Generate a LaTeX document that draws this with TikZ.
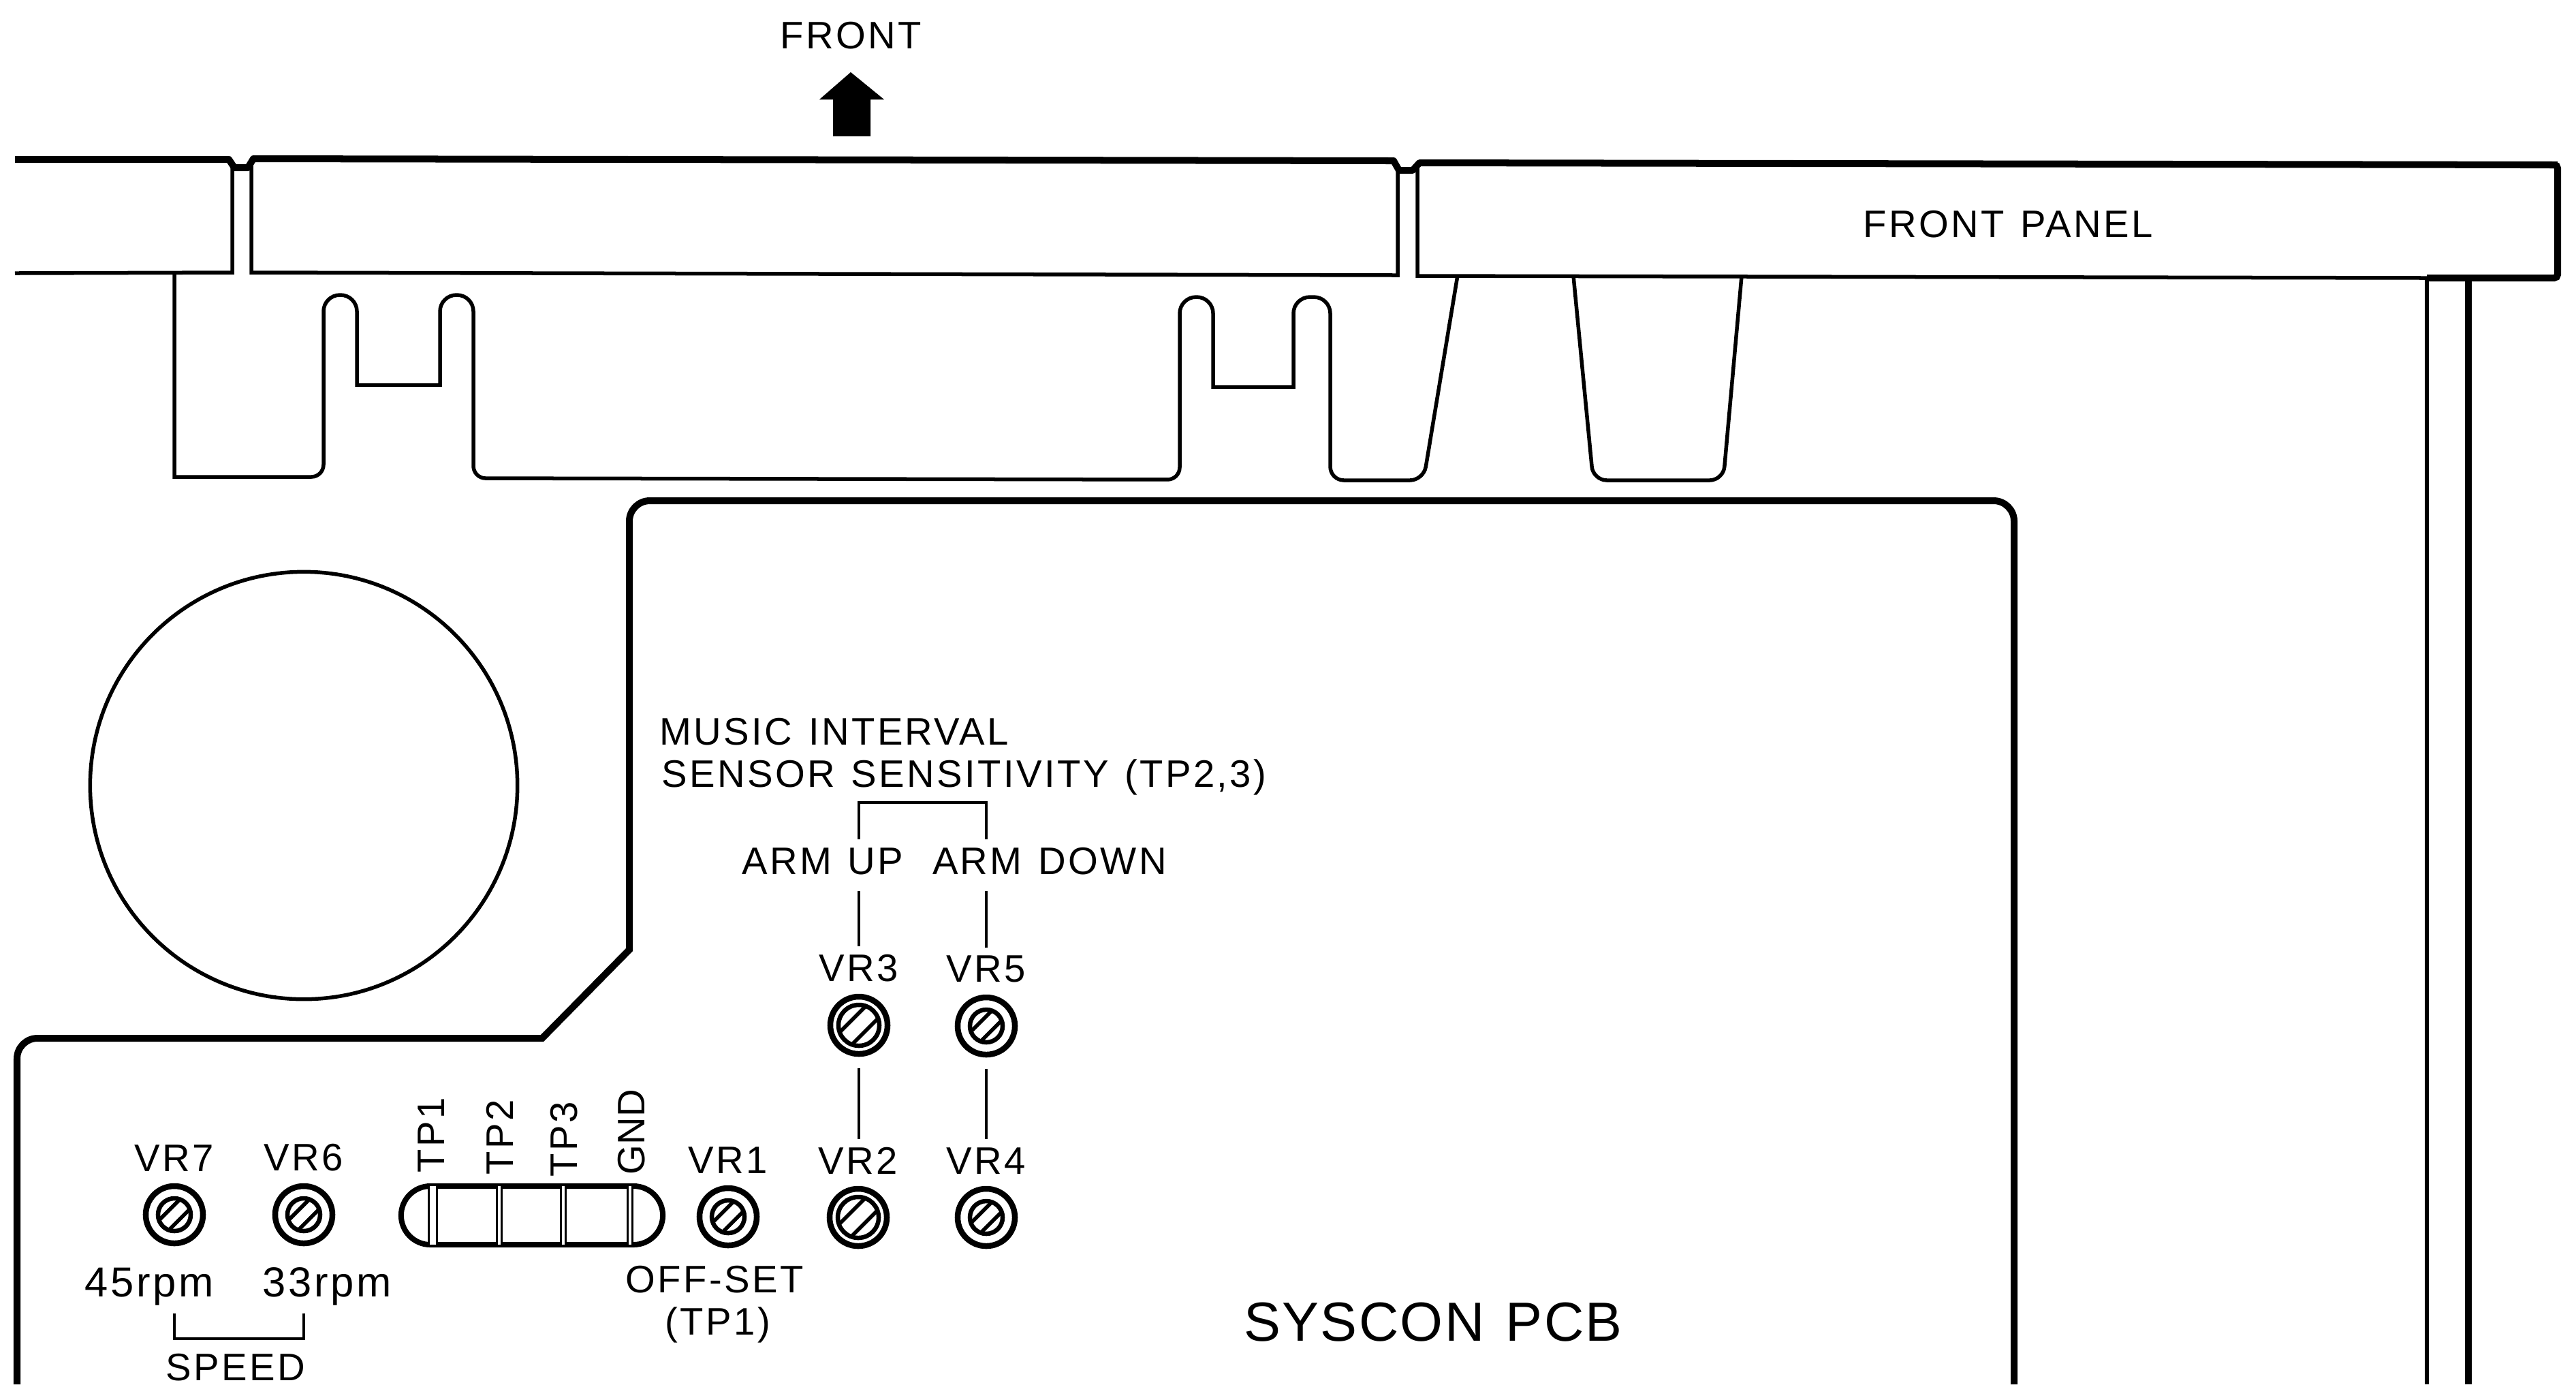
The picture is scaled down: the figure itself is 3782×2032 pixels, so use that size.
\documentclass[tikz,border=0pt]{standalone}
\usepackage{fontspec}
\setmainfont[LetterSpace=6,WordSpace=1.25]{Liberation Sans}
\usepackage{tikz}
\tikzset{
    every node/.style = {font=\fontsize{16}{18}\selectfont},
    every label/.style = {yshift=0.05cm},
    heavy/.style = {line width=0.1cm},
    fine/.style = {line width=0.055cm},
    lead/.style = {line width=0.045cm},
    lbl/.style = {anchor=base},
    tplbl/.style = {rotate=90, anchor=base west, inner xsep=0pt},
    tpline/.style = {line width=0.03cm, double, double distance=#1},
    tpline/.default = 0.04cm,
    screw/.style = {circle, draw, line width=0.085cm, minimum size=0.84cm, inner sep=0pt, node contents={},
        path picture={
            \draw[line width=0.065cm] (path picture bounding box.center) circle (#1);
            \begin{scope}
                \clip (path picture bounding box.center) circle (#1);
                \draw[line width=0.055cm, shift={(path picture bounding box.center)}]
                    ({-1cm},{-1cm+0.6*#1}) -- ({1cm-0.6*#1},{1cm})
                    ({-1cm+0.6*#1},{-1cm}) -- ({1cm},{1cm-0.6*#1});
            \end{scope}
        }},
    screw/.default = 0.24cm,
}

\begin{document}
\begin{tikzpicture}[x=0.01cm,y=-0.01cm]
    \useasboundingbox (0,0) rectangle (3782,2032);

    \node (front) at (1249,71) [lbl] {FRONT};
    \fill (1249,106) -- (1298,146) -- (1278,146) -- (1278,200) -- (1223,200) -- (1223,146) -- (1203,146) -- cycle;

    \draw[heavy, line join=round] (22,234) -- (336,234) -- (344,246) -- (364,246) -- (372,233) -- (2046,236) -- (2054,250) -- (2074,250) -- (2084,239) -- (3755,242);
    \draw[fine] (341,242) -- (341,400) -- (22,401);
    \draw[fine] (369,240) -- (369,400) -- (2052,404) -- (2052,246);
    \draw[fine] (2081,246) -- (2081,405) -- (3563,408);
    \draw[heavy, rounded corners=0.05cm] (3563,408) -- (3755,408) -- (3755,242) -- (3700,242);
    \node (frontpanel) at (2948,348) [lbl] {FRONT PANEL};
    \draw[fine] (3563,408) -- (3563,2032);
    \draw[heavy] (3624,404) -- (3624,2032);

    \draw[fine] (256,400) -- (256,700) [rounded corners=0.18cm] -- (475,700) [rounded corners=0.24cm] -- (475,433) -- (524,433) [sharp corners] -- (524,565) -- (646,565) [rounded corners=0.24cm] -- (646,433) -- (695,433) [rounded corners=0.18cm] -- (695,702) -- (1732,704) [rounded corners=0.24cm] -- (1732,436) -- (1781,436) [sharp corners] -- (1781,568) -- (1899,568) [rounded corners=0.24cm] -- (1899,436) -- (1953,436) [rounded corners=0.2cm] -- (1953,705) -- (2090,705) [sharp corners] -- (2140,404);
    \draw[fine] (2310,405) [rounded corners=0.2cm] -- (2339,705) -- (2530,705) [sharp corners] -- (2557,405);

    \node (turntable) at (446,1153) [circle, draw, fine, minimum size=6.27cm, node contents={}];

    \draw[heavy, rounded corners=0.3cm] (2957,2032) -- (2957,735) -- (924,735) [sharp corners] -- (924,1394) -- (796,1524) [rounded corners=0.3cm] -- (25,1524) -- (25,2032);

    \node (music) at (968,1093) [anchor=base west, inner xsep=0pt] {MUSIC INTERVAL};
    \node (sensor) at (971,1155) [anchor=base west, inner xsep=0pt] {SENSOR SENSITIVITY (TP2,3)};
    \node (armup) at (1208,1283) [lbl] {ARM UP};
    \node (armdown) at (1541,1283) [lbl] {ARM DOWN};
    \coordinate (arms) at (1355,1178);

    \node (vrthree) at (1261,1505) [label={[name=vrthreelabel]above:VR3},screw=0.3cm];
    \node (vrfive) at (1448,1506) [label={[name=vrfivelabel]above:VR5},screw];
    \node (vrtwo) at (1260,1787) [label={[name=vrtwolabel]above:VR2},screw=0.3cm];
    \node (vrfour) at (1448,1787) [label={[name=vrfourlabel]above:VR4},screw];
    \node (vrone) at (1069,1786) [label=above:VR1,screw];
    \node (vrseven) at (256,1783) [label=above:VR7,screw];
    \node (vrsix) at (446,1783) [label=above:VR6,screw];

    \draw[lead] (vrthree.center |- armup.north) -- (vrthree.center |- arms) -- (vrfive.center |- arms) -- (vrfive.center |- armup.north);
    \draw[lead, shorten <=0.12cm] (vrthree.center |- armup.south) -- (vrthreelabel.north -| vrthree.center);
    \draw[lead, shorten <=0.12cm] (vrfive.center |- armdown.south) -- (vrfivelabel.north -| vrfive.center);
    \draw[lead, shorten <=0.17cm] (vrthree.south) -- (vrtwolabel.north -| vrthree.center);
    \draw[lead, shorten <=0.17cm] (vrfive.south) -- (vrfourlabel.north -| vrfive.center);

    \node (tpstrip) at (781,1784) [draw, rectangle, rounded corners=0.43cm, line width=0.08cm, minimum width=3.84cm, minimum height=0.86cm, inner sep=0pt, node contents={}];
    \draw[tpline=0.09cm] (635,1741) -- (635,1827);
    \draw[tpline] (733,1741) -- (733,1827);
    \draw[tpline] (827,1741) -- (827,1827);
    \draw[tpline] (925,1741) -- (925,1827);
    \node (tpone) at (652,1722) [tplbl] {TP1};
    \node (tptwo) at (753,1725) [tplbl] {TP2};
    \node (tpthree) at (847,1728) [tplbl] {TP3};
    \node (gnd) at (946,1725) [tplbl] {\addfontfeature{LetterSpace=0}GND};

    \node (fortyfive) at (219,1903) [lbl, font=\fontsize{17.5}{19}\selectfont] {45rpm};
    \node (thirtythree) at (480,1903) [lbl, font=\fontsize{17.5}{19}\selectfont] {33rpm};
    \node (speed) at (346,2026) [lbl, inner ysep=0pt] {SPEED};
    \coordinate (speedbar) at (346,1965);
    \draw[lead] (vrseven.center |- fortyfive.south) -- (vrseven.center |- speedbar) -- (vrsix.center |- speedbar) -- (vrsix.center |- thirtythree.south);

    \node (offset) at (1049,1897) [lbl] {OFF-SET};
    \node (offsettp) at (1054,1959) [lbl] {(TP1)};
    \node (syscon) at (2104,1968) [lbl, font=\fontsize{23}{25}\selectfont] {\addfontfeature{LetterSpace=3}SYSCON PCB};
\end{tikzpicture}
\end{document}
